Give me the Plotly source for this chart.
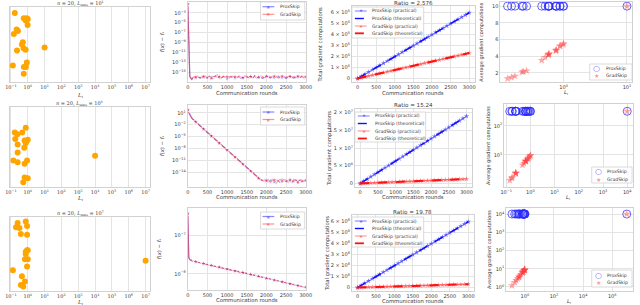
import plotly.graph_objects as go
from plotly.subplots import make_subplots

W, H = 640, 305

# ---------------- data ----------------
# column 1 / column 4: per-client smoothness constants L_i
L_r1 = [0.17, 0.58, 0.87, 1.0, 0.76, 0.98, 0.22, 0.26, 0.15, 0.51,
        0.45, 0.23, 0.57, 0.75, 10.0, 0.88, 0.13, 0.59, 0.77, 0.58]
Y_r1 = [0.92, 0.85, 0.85, 0.84, 0.82, 0.76, 0.70, 0.68, 0.64, 0.53,
        0.50, 0.42, 0.45, 0.43, 0.46, 0.26, 0.22, 0.20, 0.20, 0.11]
G_r1 = [1.6, 4.2, 5.2, 5.5, 4.7, 5.4, 2.1, 2.25, 1.45, 3.85,
        3.5, 2.15, 4.15, 4.65, 10.0, 5.25, 1.3, 4.3, 4.75, 4.2]
P_r1 = 10.0

L_r2 = [0.76, 0.17, 0.24, 0.47, 0.18, 0.65, 1.0, 0.76, 0.25, 0.62,
        0.25, 0.14, 0.25, 0.91, 0.65, 10000.0, 0.65, 1.0, 0.54, 0.83]
Y_r2 = [0.74, 0.68, 0.66, 0.68, 0.60, 0.58, 0.59, 0.55, 0.53, 0.49,
        0.43, 0.33, 0.31, 0.33, 0.29, 0.39, 0.12, 0.11, 0.06, 0.57]
G_r2 = [7.3, 1.6, 2.3, 4.5, 1.7, 6.2, 9.6, 7.3, 2.4, 6.0,
        2.4, 1.35, 2.4, 8.7, 6.2, 316.0, 6.2, 9.6, 5.2, 8.0]
P_r2 = 316.0

L_r3 = [0.25, 0.76, 0.20, 0.32, 0.91, 0.39, 0.91, 1.0, 0.76, 0.76,
        0.68, 1.0, 1.0e7, 0.91, 0.13, 0.45, 0.68, 0.39, 0.54, 0.91]
Y_r3 = [0.92, 0.94, 0.86, 0.85, 0.88, 0.77, 0.76, 0.55, 0.53, 0.50,
        0.43, 0.43, 0.41, 0.33, 0.28, 0.20, 0.13, 0.08, 0.06, 0.55]
G_r3 = [2.3, 6.9, 1.8, 2.9, 8.3, 3.5, 8.3, 9.1, 6.9, 6.9,
        6.2, 9.1, 10000.0, 8.3, 1.2, 4.1, 6.2, 3.5, 4.9, 8.3]
P_r3 = 10000.0

# column 2: log10 of f(x)-f* per communication round
rounds_c2 = list(range(0, 3001, 50))
prox_f_r1 = [-1.2, -15.9, -16.4, -16.0, -16.2, -15.9, -16.1, -16.3, -15.8, -16.1,
             -16.2, -15.9, -16.0, -16.3, -15.8, -15.6, -16.1, -16.2, -15.9, -16.0,
             -16.3, -15.9, -16.1, -15.8, -16.2, -16.0, -15.9, -16.3, -16.1, -15.8,
             -16.0, -16.2, -15.9, -16.1, -15.7, -16.2, -16.0, -15.9, -16.3, -16.1,
             -15.8, -16.0, -16.2, -15.9, -16.1, -16.0, -15.8, -16.2, -16.1, -15.9,
             -16.3, -16.0, -15.8, -16.1, -16.2, -15.9, -16.0, -16.1, -15.8, -16.2,
             -16.0]
grad_f_r1 = [-1.2, -15.8, -16.6, -15.9, -16.0, -15.8, -16.2, -15.9, -16.0, -15.8,
             -16.1, -15.8, -16.3, -15.9, -15.8, -16.0, -15.9, -16.2, -15.8, -16.0,
             -15.9, -16.2, -15.8, -16.0, -15.9, -16.1, -15.8, -16.0, -16.2, -15.9,
             -15.8, -16.0, -15.9, -16.2, -15.8, -16.0, -16.1, -15.8, -15.9, -16.2,
             -15.9, -15.8, -16.0, -16.1, -15.8, -15.9, -16.2, -15.9, -15.8, -16.0,
             -16.1, -15.8, -15.9, -16.0, -15.9, -16.2, -15.8, -16.0, -15.9, -15.8,
             -16.0]
prox_f_r2 = [1.8, 0.5, -0.3, -0.8, -1.3, -1.75, -2.2, -2.64, -3.09, -3.53,
             -3.98, -4.43, -4.87, -5.32, -5.76, -6.21, -6.66, -7.1, -7.55, -7.99,
             -8.44, -8.89, -9.33, -9.78, -10.22, -10.67, -11.12, -11.56, -12.01, -12.45,
             -12.9, -13.35, -13.79, -14.24, -14.68, -15.13, -15.57, -15.9, -16.1, -16.3,
             -16.0, -16.4, -16.1, -15.9, -16.5, -16.0, -16.2, -16.6, -15.9, -16.1,
             -16.4, -16.0, -16.2, -16.7, -15.9, -16.1, -16.3, -16.0, -16.5, -16.1,
             -16.2]
grad_f_r2 = [1.8, 0.45, -0.32, -0.82, -1.3, -1.76, -2.21, -2.65, -3.1, -3.55,
             -3.99, -4.44, -4.88, -5.33, -5.78, -6.22, -6.67, -7.11, -7.56, -8.0,
             -8.45, -8.9, -9.34, -9.79, -10.23, -10.68, -11.13, -11.57, -12.02, -12.46,
             -12.91, -13.36, -13.8, -14.25, -14.7, -15.15, -15.6, -16.0, -16.2, -16.0,
             -16.3, -15.9, -16.6, -16.1, -16.0, -16.8, -16.2, -15.9, -16.4, -16.0,
             -16.1, -16.6, -15.9, -16.2, -16.5, -16.0, -16.7, -16.1, -16.0, -16.4,
             -16.1]
rounds_c2_r3 = [0, 25, 50, 100, 200, 400, 600, 800, 1000, 1200, 1400, 1600,
                1800, 2000, 2200, 2400, 2600, 2800, 3000]
prox_f_r3 = [-6.44, -7.58, -7.63, -7.66, -7.69, -7.74, -7.78, -7.83, -7.88, -7.92,
             -7.97, -8.02, -8.07, -8.12, -8.16, -8.21, -8.26, -8.30, -8.35]
grad_f_r3 = [-6.44, -7.59, -7.63, -7.66, -7.69, -7.74, -7.79, -7.83, -7.88, -7.93,
             -7.97, -8.02, -8.07, -8.12, -8.17, -8.21, -8.26, -8.31, -8.35]

# column 3: total gradient computations
rounds_c3 = list(range(0, 3001, 100))
prox_tot_r1 = [0, 20, 40, 60, 80, 100, 120, 140, 160, 180, 200, 220, 240, 260, 280, 300,
               320, 340, 360, 380, 400, 420, 440, 460, 480, 500, 520, 540, 560, 580, 600]  # x1e3
grad_tot_r1 = [0, 7.8, 15.5, 23.3, 31.0, 38.8, 46.6, 54.3, 62.1, 69.8, 77.6, 85.4, 93.1,
               100.9, 108.6, 116.4, 124.2, 131.9, 139.7, 147.4, 155.2, 163.0, 170.7, 178.5,
               186.2, 194.0, 201.8, 209.5, 217.3, 225.0, 232.8]  # x1e3
prox_tot_r2 = [0, 0.63, 1.26, 1.90, 2.53, 3.16, 3.79, 4.43, 5.06, 5.69, 6.32, 6.96, 7.59,
               8.22, 8.85, 9.49, 10.12, 10.75, 11.38, 12.02, 12.65, 13.28, 13.91, 14.55,
               15.18, 15.81, 16.44, 17.08, 17.71, 18.34, 18.97]  # x1e6
grad_tot_r2 = [0, 0.04, 0.08, 0.12, 0.17, 0.21, 0.25, 0.29, 0.33, 0.37, 0.42, 0.46, 0.50,
               0.54, 0.58, 0.62, 0.66, 0.71, 0.75, 0.79, 0.83, 0.87, 0.91, 0.95, 1.00,
               1.04, 1.08, 1.12, 1.16, 1.20, 1.245]  # x1e6
prox_tot_r3 = [0, 0.2, 0.4, 0.6, 0.8, 1.0, 1.2, 1.4, 1.6, 1.8, 2.0, 2.2, 2.4, 2.6, 2.8, 3.0,
               3.2, 3.4, 3.6, 3.8, 4.0, 4.2, 4.4, 4.6, 4.8, 5.0, 5.2, 5.4, 5.6, 5.8, 6.0]  # x1e8
grad_tot_r3 = [0, 0.10, 0.20, 0.30, 0.40, 0.51, 0.61, 0.71, 0.81, 0.91, 1.01, 1.11, 1.21,
               1.31, 1.42, 1.52, 1.62, 1.72, 1.82, 1.92, 2.02, 2.12, 2.22, 2.33, 2.43,
               2.53, 2.63, 2.73, 2.83, 2.93, 3.03]  # x1e7
theo_rounds = [0, 3000]
prox_theo = [[0, 600e3], [0, 18.97e6], [0, 6.0e8]]
grad_theo = [[0, 232.8e3], [0, 1.245e6], [0, 3.03e7]]
ratios = ["2.576", "15.24", "19.78"]
Lmax_exp = ["1", "4", "7"]

col1_ticks = [0.1, 1, 10, 1e2, 1e3, 1e4, 1e5, 1e6, 1e7]
col1_ticktext = ["10<sup>−1</sup>", "10<sup>0</sup>", "10<sup>1</sup>", "10<sup>2</sup>",
                 "10<sup>3</sup>", "10<sup>4</sup>", "10<sup>5</sup>", "10<sup>6</sup>",
                 "10<sup>7</sup>"]
round_ticks = [0, 500, 1000, 1500, 2000, 2500, 3000]

# ---------------- figure ----------------
fig = make_subplots(rows=3, cols=4)

SANS = "DejaVu Sans"
SERIF = "DejaVu Serif"
GRID = "#e4e4e4"
FRAME = "#d2d2d2"
TXT = "#3a3a3a"
BLUE_A = "rgba(40,40,255,0.55)"
RED_A = "rgba(255,40,40,0.5)"

# pixel boxes (x0, x1, y0, y1) for each subplot
boxes = [
    [(5, 148, 7, 82), (186, 306, 2, 82), (353, 478, 6, 82), (504, 638, 2, 82)],
    [(5, 148, 107, 187), (186, 306, 105, 187), (356, 475, 109, 187), (508, 639, 104, 187)],
    [(5, 148, 217, 291), (186, 306, 208, 290), (353, 477, 215, 291), (510, 639, 208, 291)],
]
# axis-title pixel positions per row
xlab_y = [(95, 93, 93, 92), (198, 197, 197, 197), (302, 300, 301, 301)]
ylab_x = [(160, 322, 484), (160, 330, 492), (158, 328, 493)]


def axname(r, c):
    i = r * 4 + c + 1
    return ("xaxis" if i == 1 else f"xaxis{i}"), ("yaxis" if i == 1 else f"yaxis{i}")


def px(x, y):
    return x / W, 1 - y / H


for r in range(3):
    for c in range(4):
        xa, ya = axname(r, c)
        x0, x1, y0, y1 = boxes[r][c]
        fig.layout[xa].domain = [x0 / W, x1 / W]
        fig.layout[ya].domain = [1 - y1 / H, 1 - y0 / H]

Ls = [L_r1, L_r2, L_r3]
Ys = [Y_r1, Y_r2, Y_r3]
Gs = [G_r1, G_r2, G_r3]
Ps = [P_r1, P_r2, P_r3]
prox_f = [prox_f_r1, prox_f_r2, prox_f_r3]
grad_f = [grad_f_r1, grad_f_r2, grad_f_r3]
f_rounds = [rounds_c2, rounds_c2, rounds_c2_r3]
prox_tot = [[v * 1e3 for v in prox_tot_r1], [v * 1e6 for v in prox_tot_r2], [v * 1e8 for v in prox_tot_r3]]
grad_tot = [[v * 1e3 for v in grad_tot_r1], [v * 1e6 for v in grad_tot_r2], [v * 1e7 for v in grad_tot_r3]]

tickfont = dict(family=SANS, size=5.0, color=TXT)
labfont = dict(family=SANS, size=5.3, color=TXT)

c2_yticks = [
    ([10 ** e for e in (-3, -5, -7, -9, -11, -13, -15)],
     [f"10<sup>−{e}</sup>" for e in (3, 5, 7, 9, 11, 13, 15)], [-17.0, -0.8]),
    ([10 ** e for e in (1, -2, -5, -8, -11, -14)],
     ["10<sup>1</sup>"] + [f"10<sup>−{e}</sup>" for e in (2, 5, 8, 11, 14)], [-17.8, 3.0]),
    ([1e-7, 1e-8], ["10<sup>−7</sup>", "10<sup>−8</sup>"], [-8.42, -6.3]),
]
c3_yticks = [
    ([0, 1e5, 2e5, 3e5, 4e5, 5e5, 6e5],
     ["0"] + [f"{k} × 10<sup>5</sup>" for k in range(1, 7)], 6.3e5),
    ([0, 5e6, 1e7, 1.5e7, 2e7],
     ["0", "5 × 10<sup>6</sup>", "1 × 10<sup>7</sup>", "1.5 × 10<sup>7</sup>", "2 × 10<sup>7</sup>"], 2.0e7),
    ([0, 1e8, 2e8, 3e8, 4e8, 5e8, 6e8],
     ["0"] + [f"{k} × 10<sup>8</sup>" for k in range(1, 7)], 6.3e8),
]
c4_x = [
    ([1, 10], ["10<sup>0</sup>", "10<sup>1</sup>"], [-1.0, 1.08]),
    ([0.1, 1, 10, 100, 1e3, 1e4], ["10<sup>−1</sup>", "10<sup>0</sup>", "10<sup>1</sup>",
                                  "10<sup>2</sup>", "10<sup>3</sup>", "10<sup>4</sup>"], [-1.08, 4.24]),
    ([1, 1e2, 1e4, 1e6], ["10<sup>0</sup>", "10<sup>2</sup>", "10<sup>4</sup>", "10<sup>6</sup>"], [-1.28, 7.43]),
]
c4_y = [
    ("linear", [2, 4, 6, 8, 10], ["2", "4", "6", "8", "10"], [0.9, 10.5]),
    ("log", [10, 100], ["10<sup>1</sup>", "10<sup>2</sup>"], [-0.1, 2.75]),
    ("log", [1, 10, 100, 1e3, 1e4], ["10<sup>0</sup>", "10<sup>1</sup>", "10<sup>2</sup>",
                                    "10<sup>3</sup>", "10<sup>4</sup>"], [-0.22, 4.33]),
]

# legend geometry (pixels) per row
leg_c2 = [(260, 305, 2, 20, (6.7, 14.3)), (260, 305, 107, 125, (112, 119.5)), (260, 305, 212, 229, (216.5, 224))]
leg_c3 = [(353, 426, 7, 38, (11, 18.5, 26, 33.3)), (356, 428, 112, 142, (116, 123.5, 131, 138.5)),
          (353, 426, 217, 247, (221, 228.5, 236, 243.3))]
leg_c4 = [(595, 638, 64, 80, (68, 75.5)), (597, 638, 167, 183, (171.5, 179)), (597, 638, 270, 287, (275, 282.5))]

annotations = []
shapes = []


def add_text(x, y, text, font, xanchor="center", yanchor="middle", angle=0):
    ax, ay = px(x, y)
    annotations.append(dict(x=ax, y=ay, xref="paper", yref="paper", text=text, showarrow=False,
                            font=font, xanchor=xanchor, yanchor=yanchor, textangle=angle))


def add_box(x0, x1, y0, y1):
    a0, b1 = px(x0, y0)
    a1, b0 = px(x1, y1)
    shapes.append(dict(type="rect", xref="paper", yref="paper", x0=a0, x1=a1, y0=b0, y1=b1,
                       line=dict(color=FRAME, width=0.8), fillcolor="rgba(255,255,255,0.85)", layer="above"))


def add_seg(x0, x1, y, color, width, dash="solid"):
    a0, b = px(x0, y)
    a1, _ = px(x1, y)
    shapes.append(dict(type="line", xref="paper", yref="paper", x0=a0, x1=a1, y0=b, y1=b,
                       line=dict(color=color, width=width, dash=dash), layer="above"))


legfont = dict(family=SANS, size=4.6, color=TXT)

for r in range(3):
    # ---- column 1 ----
    fig.add_trace(go.Scatter(x=Ls[r], y=Ys[r], mode="markers", showlegend=False,
                             marker=dict(color="#FFA500", size=6)), row=r + 1, col=1)
    xa, ya = axname(r, 0)
    fig.layout[xa].update(type="log", range=[-1.06, 7.29], tickvals=col1_ticks, ticktext=col1_ticktext,
                          tickfont=dict(family=SERIF, size=5.0, color=TXT), showgrid=True, gridcolor=GRID,
                          showline=True, mirror=True, linecolor=FRAME, zeroline=False, ticks="")
    fig.layout[ya].update(range=[0, 1], showticklabels=False, showgrid=False, showline=True, mirror=True,
                          linecolor=FRAME, zeroline=False, ticks="")
    x0, x1, y0, y1 = boxes[r][0]
    add_text((x0 + x1) / 2, y0 - 3.5,
             f"<i>n</i> = 20, <i>L</i><sub>max</sub> = 10<sup>{Lmax_exp[r]}</sup>",
             dict(family=SERIF, size=5.0, color=TXT))
    add_text((x0 + x1) / 2, xlab_y[r][0], "<i>L<sub>i</sub></i>", dict(family=SERIF, size=5.5, color=TXT))

    # ---- column 2 ----
    msz = [5 if (rr % 200 == 0) else 0 for rr in f_rounds[r]]
    fig.add_trace(go.Scatter(x=f_rounds[r], y=[10 ** v for v in prox_f[r]], mode="lines+markers",
                             showlegend=False, line=dict(color=BLUE_A, width=1.2),
                             marker=dict(symbol="star", size=msz, color=BLUE_A)), row=r + 1, col=2)
    fig.add_trace(go.Scatter(x=f_rounds[r], y=[10 ** v for v in grad_f[r]], mode="lines+markers",
                             showlegend=False, line=dict(color=RED_A, width=1.2),
                             marker=dict(symbol="star", size=msz, color=RED_A)), row=r + 1, col=2)
    xa, ya = axname(r, 1)
    fig.layout[xa].update(range=[0, 3000], tickvals=round_ticks,
                          tickfont=tickfont, gridcolor=GRID, showline=True, mirror=True, linecolor=FRAME,
                          zeroline=False, ticks="")
    tv, tt, rg = c2_yticks[r]
    fig.layout[ya].update(type="log", range=rg, tickvals=tv, ticktext=tt, tickfont=tickfont,
                          gridcolor=GRID, showline=True, mirror=True, linecolor=FRAME, zeroline=False, ticks="")
    x0, x1, y0, y1 = boxes[r][1]
    add_text((x0 + x1) / 2, xlab_y[r][1], "Communication rounds", labfont)
    add_text(ylab_x[r][0], (y0 + y1) / 2, "<i>f</i>(<i>x</i>) − <i>f</i><sub>*</sub>", labfont, angle=-90)
    lx0, lx1, ly0, ly1, ys = leg_c2[r]
    add_box(lx0, lx1, ly0, ly1)
    for yy, name, col in zip(ys, ["ProxSkip", "GradSkip"], [BLUE_A, RED_A]):
        add_seg(lx0 + 2, lx0 + 14, yy, col, 1.2)
        add_text(lx0 + 8, yy, "★", dict(family=SANS, size=5, color=col))
        add_text(lx0 + 18, yy, name, legfont, xanchor="left")

    # ---- column 3 ----
    fig.add_trace(go.Scatter(x=rounds_c3, y=prox_tot[r], mode="lines+markers", showlegend=False,
                             line=dict(color="rgba(40,40,255,0.6)", width=1),
                             marker=dict(symbol="star", size=4, color="rgba(40,40,255,0.6)")), row=r + 1, col=3)
    fig.add_trace(go.Scatter(x=theo_rounds, y=prox_theo[r], mode="lines", showlegend=False,
                             line=dict(color="#1010ff", width=1.5, dash="dash")), row=r + 1, col=3)
    fig.add_trace(go.Scatter(x=rounds_c3, y=grad_tot[r], mode="lines+markers", showlegend=False,
                             line=dict(color="rgba(255,40,40,0.55)", width=1),
                             marker=dict(symbol="star", size=4, color="rgba(255,40,40,0.55)")), row=r + 1, col=3)
    fig.add_trace(go.Scatter(x=theo_rounds, y=grad_theo[r], mode="lines", showlegend=False,
                             line=dict(color="#ff1010", width=2, dash="dash")), row=r + 1, col=3)
    xa, ya = axname(r, 2)
    fig.layout[xa].update(range=[-150, 3150], tickvals=round_ticks,
                          tickfont=tickfont, gridcolor=GRID, showline=True, mirror=True, linecolor=FRAME,
                          zeroline=False, ticks="")
    tv, tt, top = c3_yticks[r]
    fig.layout[ya].update(range=[-0.05 * top, 1.05 * top], tickvals=tv, ticktext=tt, tickfont=tickfont,
                          gridcolor=GRID, showline=True, mirror=True, linecolor=FRAME, zeroline=False, ticks="")
    x0, x1, y0, y1 = boxes[r][2]
    add_text((x0 + x1) / 2, y0 - 3.5, f"Ratio = {ratios[r]}", dict(family=SANS, size=5.6, color=TXT))
    add_text((x0 + x1) / 2, xlab_y[r][2], "Communication rounds", labfont)
    add_text(ylab_x[r][1], (y0 + y1) / 2, "Total gradient computations", labfont, angle=-90)
    lx0, lx1, ly0, ly1, ys = leg_c3[r]
    add_box(lx0, lx1, ly0, ly1)
    specs = [("ProxSkip (practical)", "rgba(40,40,255,0.6)", 1, "solid", True),
             ("ProxSkip (theoretical)", "#1010ff", 1.4, "dash", False),
             ("GradSkip (practical)", "rgba(255,40,40,0.55)", 1, "solid", True),
             ("GradSkip (theoretical)", "#ff1010", 1.8, "dash", False)]
    for yy, (name, col, wdt, dsh, mk) in zip(ys, specs):
        add_seg(lx0 + 3, lx0 + 15, yy, col, wdt, dsh)
        if mk:
            add_text(lx0 + 9, yy, "★", dict(family=SANS, size=4.5, color=col))
        add_text(lx0 + 18, yy, name, legfont, xanchor="left")

    # ---- column 4 ----
    fig.add_trace(go.Scatter(x=Ls[r], y=[Ps[r]] * len(Ls[r]), mode="markers", showlegend=False,
                             marker=dict(symbol="circle-open", size=8, color="rgba(40,40,255,0.7)",
                                         line=dict(width=1))), row=r + 1, col=4)
    fig.add_trace(go.Scatter(x=Ls[r], y=Gs[r], mode="markers", showlegend=False,
                             marker=dict(symbol="star", size=6, color="rgba(255,60,60,0.45)")), row=r + 1, col=4)
    xa, ya = axname(r, 3)
    tv, tt, rg = c4_x[r]
    fig.layout[xa].update(type="log", range=rg, tickvals=tv, ticktext=tt, tickfont=tickfont,
                          gridcolor=GRID, showline=True, mirror=True, linecolor=FRAME, zeroline=False, ticks="")
    yt, tv, tt, rg = c4_y[r]
    fig.layout[ya].update(type=yt, range=rg, tickvals=tv, ticktext=tt, tickfont=tickfont,
                          gridcolor=GRID, showline=True, mirror=True, linecolor=FRAME, zeroline=False, ticks="")
    x0, x1, y0, y1 = boxes[r][3]
    add_text((x0 + x1) / 2, xlab_y[r][3], "<i>L<sub>i</sub></i>", labfont)
    add_text(ylab_x[r][2], (y0 + y1) / 2, "Average gradient computations", dict(family=SANS, size=5.0, color=TXT),
             angle=-90)
    lx0, lx1, ly0, ly1, ys = leg_c4[r]
    add_box(lx0, lx1, ly0, ly1)
    add_text(lx0 + 7, ys[0], "○", dict(family=SANS, size=8, color="rgba(40,40,255,0.75)"))
    add_text(lx0 + 7, ys[1], "★", dict(family=SANS, size=6, color="rgba(255,60,60,0.55)"))
    add_text(lx0 + 14, ys[0], "ProxSkip", legfont, xanchor="left")
    add_text(lx0 + 14, ys[1], "GradSkip", legfont, xanchor="left")

fig.update_layout(width=W, height=H, margin=dict(l=0, r=0, t=0, b=0), paper_bgcolor="white",
                  plot_bgcolor="white", annotations=annotations, shapes=shapes, showlegend=False)
fig.write_html("out.html", config={"displayModeBar": False},
               post_script="document.body.style.margin='0';document.body.style.overflow='hidden';")
